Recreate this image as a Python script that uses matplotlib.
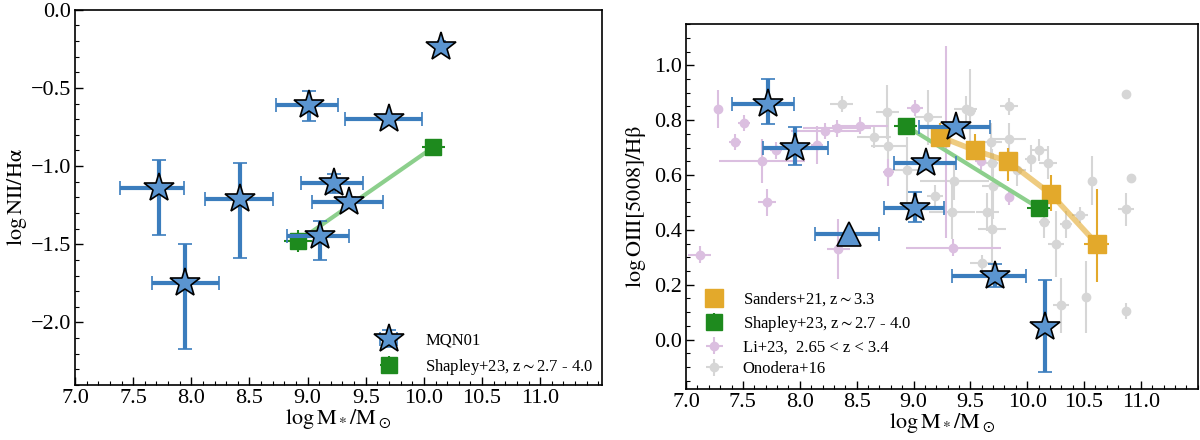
import numpy as np
import matplotlib
matplotlib.use('Agg')
import matplotlib.pyplot as plt
from matplotlib.ticker import MultipleLocator

plt.rcParams['font.family'] = ['Liberation Serif', 'DejaVu Serif']
plt.rcParams['mathtext.fontset'] = 'stix'

# MQN01, left panel (logM, log NII/Ha)
mqn_x_n2 = [7.72, 7.95, 8.42, 9.01, 9.70, 10.15, 9.23, 9.36, 9.11]
mqn_y_n2 = [-1.14, -1.75, -1.21, -0.61, -0.70, -0.24, -1.11, -1.23, -1.45]
mqn_xlo_n2 = [0.33, 0.29, 0.30, 0.28, 0.38, 0.03, 0.29, 0.32, 0.29]
mqn_xhi_n2 = [0.22, 0.29, 0.28, 0.25, 0.28, 0.03, 0.25, 0.29, 0.25]
mqn_ylo_n2 = [0.30, 0.42, 0.38, 0.10, 0.02, 0.01, 0.06, 0.03, 0.15]
mqn_yhi_n2 = [0.18, 0.25, 0.23, 0.09, 0.02, 0.03, 0.06, 0.03, 0.10]

# Shapley+23, left panel
shap_x_n2 = [8.92, 10.08]
shap_y_n2 = [-1.48, -0.88]
shap_xerr_n2 = [0.12, 0.10]
shap_yerr_n2 = [0.07, 0.02]

# MQN01, right panel (logM, log OIII/Hb)
mqn_x_o3 = [7.72, 7.96, 9.11, 9.01, 9.37, 9.72, 10.16]
mqn_y_o3 = [0.86, 0.70, 0.645, 0.48, 0.775, 0.233, 0.046]
mqn_xlo_o3 = [0.32, 0.28, 0.28, 0.27, 0.32, 0.38, 0.0]
mqn_xhi_o3 = [0.23, 0.29, 0.26, 0.26, 0.30, 0.27, 0.0]
mqn_ylo_o3 = [0.074, 0.064, 0.01, 0.05, 0.01, 0.04, 0.165]
mqn_yhi_o3 = [0.09, 0.076, 0.01, 0.057, 0.01, 0.043, 0.173]

# MQN01 lower limit (triangle)
tri_x, tri_y = [8.43], [0.385]
tri_xlo, tri_xhi = [0.30], [0.27]

# Sanders+21
sand_x = [9.23, 9.54, 9.83, 10.21, 10.61]
sand_y = [0.74, 0.69, 0.65, 0.53, 0.35]
sand_ylo = [0.03, 0.03, 0.07, 0.06, 0.14]
sand_yhi = [0.05, 0.06, 0.05, 0.07, 0.20]
sand_xerr = [0.0, 0.0, 0.0, 0.0, 0.11]

# Shapley+23, right panel
shap_x_o3 = [8.93, 10.10]
shap_y_o3 = [0.78, 0.48]
shap_xerr_o3 = [0.10, 0.10]
shap_yerr_o3 = [0.02, 0.02]

# Li+23
li_x = [7.12, 7.28, 7.43, 7.51, 7.67, 7.71, 7.79, 8.15, 8.22, 8.33, 8.53, 8.34,
        8.78, 9.01, 9.29, 9.35, 9.59, 9.84]
li_y = [0.31, 0.84, 0.72, 0.79, 0.65, 0.50, 0.69, 0.71, 0.76, 0.77, 0.78, 0.33,
        0.61, 0.845, 0.72, 0.335, 0.65, 0.52]
li_xerr = [0.10, 0.03, 0.05, 0.05, 0.38, 0.08, 0.05, 0.05, 0.30, 0.30, 0.25, 0.10,
           0.05, 0.07, 0.03, 0.42, 0.05, 0.03]
li_yerr = [0.03, 0.07, 0.03, 0.03, 0.08, 0.05, 0.03, 0.07, 0.03, 0.03, 0.03, 0.11,
           0.05, 0.03, 0.35, 0.03, 0.03, 0.03]

# Onodera+16
ono_x = [8.37, 8.65, 8.77, 8.78, 8.94, 9.13, 9.19, 9.36, 9.34, 9.46, 9.50, 9.68,
         9.69, 9.70, 9.65, 9.69, 9.60, 9.84, 9.84, 9.91, 10.03, 10.10, 10.18, 10.15,
         10.25, 10.34, 10.30, 10.46, 10.52, 10.57, 10.87, 10.91, 10.87, 10.87]
ono_y = [0.86, 0.74, 0.83, 0.705, 0.62, 0.81, 0.525, 0.58, 0.465, 0.84, 0.835, 0.72,
         0.645, 0.56, 0.465, 0.405, 0.28, 0.85, 0.73, 0.62, 0.66, 0.69, 0.645, 0.43,
         0.35, 0.42, 0.125, 0.455, 0.155, 0.58, 0.895, 0.59, 0.475, 0.105]
ono_xerr = [0.10, 0.15, 0.10, 0.15, 0.18, 0.12, 0.07, 0.30, 0.20, 0.10, 0.05, 0.10,
            0.05, 0.10, 0.10, 0.12, 0.10, 0.08, 0.15, 0.08, 0.05, 0.07, 0.08, 0.05,
            0.07, 0.05, 0.07, 0.07, 0.03, 0.03, 0.0, 0.0, 0.07, 0.02]
ono_yerr = [0.03, 0.04, 0.10, 0.12, 0.12, 0.10, 0.04, 0.07, 0.10, 0.05, 0.15, 0.07,
            0.05, 0.12, 0.07, 0.15, 0.03, 0.03, 0.06, 0.06, 0.05, 0.04, 0.06, 0.06,
            0.12, 0.05, 0.10, 0.03, 0.13, 0.09, 0.0, 0.0, 0.06, 0.03]

# colours
c_err = '#3b7dbd'
c_star = '#5b95d0'
c_green = '#1e8a1e'
c_lgreen = '#8ccf8c'
c_orange = '#e3a92b'
c_li = '#dbbfe0'
c_ono = '#d6d6d6'

fig = plt.figure(figsize=(12, 4.4), dpi=100)
ax1 = fig.add_axes([0.0625, 0.125, 0.439, 0.853])
ax2 = fig.add_axes([0.5717, 0.116, 0.4265, 0.829])

# ---- left panel ----
ax1.plot(shap_x_n2, shap_y_n2, color=c_lgreen, lw=3, zorder=2)
h_shap1 = ax1.errorbar(shap_x_n2, shap_y_n2, xerr=shap_xerr_n2, yerr=shap_yerr_n2,
                       fmt='s', color=c_green, ms=12, elinewidth=1.5, zorder=3,
                       label=r'Shapley+23, z$\sim$2.7 - 4.0')
h_mqn = ax1.errorbar(mqn_x_n2, mqn_y_n2, xerr=[mqn_xlo_n2, mqn_xhi_n2],
                     yerr=[mqn_ylo_n2, mqn_yhi_n2], fmt='*', ms=22, mfc=c_star,
                     mec='k', mew=1.2, ecolor=c_err, elinewidth=3, capsize=5,
                     capthick=1.5, zorder=4, label='MQN01')
ax1.legend(handles=[h_mqn, h_shap1], loc='lower right', frameon=False, fontsize=12,
           handletextpad=1.2, borderaxespad=0.1, bbox_to_anchor=(1.0, 0.0))
ax1.set_xlim(7.0, 11.53)
ax1.set_ylim(-2.4, 0.0)
ax1.set_xticks(np.arange(7.0, 11.01, 0.5))
ax1.set_yticks([0.0, -0.5, -1.0, -1.5, -2.0])
ax1.yaxis.set_minor_locator(MultipleLocator(0.1))
ax1.set_xlabel(r'$\log \mathrm{M_*/M_\odot}$', fontsize=16, labelpad=-1)
ax1.set_ylabel(r'$\log \mathrm{NII/H\alpha}$', fontsize=16, labelpad=1)

# ---- right panel ----
h_ono = ax2.errorbar(ono_x, ono_y, xerr=ono_xerr, yerr=ono_yerr, fmt='o', ms=6,
                     color=c_ono, elinewidth=1.5, zorder=1, label='Onodera+16')
h_li = ax2.errorbar(li_x, li_y, xerr=li_xerr, yerr=li_yerr, fmt='o', ms=6,
                    color=c_li, elinewidth=1.5, zorder=1,
                    label=r'Li+23,  2.65 < z < 3.4')
ax2.plot(sand_x, sand_y, color=c_orange, lw=4, alpha=0.6, zorder=2)
h_sand = ax2.errorbar(sand_x, sand_y, xerr=sand_xerr, yerr=[sand_ylo, sand_yhi],
                      fmt='s', ms=13, color=c_orange, elinewidth=1.5, zorder=3,
                      label=r'Sanders+21, z$\sim$3.3')
ax2.plot(shap_x_o3, shap_y_o3, color=c_lgreen, lw=3, zorder=2)
h_shap2 = ax2.errorbar(shap_x_o3, shap_y_o3, xerr=shap_xerr_o3, yerr=shap_yerr_o3,
                       fmt='s', ms=12, color=c_green, elinewidth=1.5, zorder=3,
                       label=r'Shapley+23, z$\sim$2.7 - 4.0')
ax2.errorbar(mqn_x_o3, mqn_y_o3, xerr=[mqn_xlo_o3, mqn_xhi_o3],
             yerr=[mqn_ylo_o3, mqn_yhi_o3], fmt='*', ms=22, mfc=c_star, mec='k',
             mew=1.2, ecolor=c_err, elinewidth=3, capsize=5, capthick=1.5, zorder=4)
ax2.errorbar(tri_x, tri_y, xerr=[tri_xlo, tri_xhi], fmt='^', ms=17, mfc=c_star,
             mec='k', mew=1.2, ecolor=c_err, elinewidth=3, capsize=5, capthick=1.5,
             zorder=4)
ax2.legend(handles=[h_sand, h_shap2, h_li, h_ono], loc='lower left', frameon=False,
           fontsize=12, handletextpad=0.7, labelspacing=0.35, borderaxespad=0.3,
           bbox_to_anchor=(0.0, 0.0))
ax2.set_xlim(7.0, 11.5)
ax2.set_ylim(-0.18, 1.15)
ax2.set_xticks(np.arange(7.0, 11.01, 0.5))
ax2.set_yticks([0.0, 0.2, 0.4, 0.6, 0.8, 1.0])
ax2.yaxis.set_minor_locator(MultipleLocator(0.05))
ax2.set_xlabel(r'$\log \mathrm{M_*/M_\odot}$', fontsize=16, labelpad=-1)
ax2.set_ylabel(r'$\log \mathrm{OIII[5008]/H\beta}$', fontsize=16, labelpad=4)

for ax in (ax1, ax2):
    ax.xaxis.set_minor_locator(MultipleLocator(0.1))
    ax.tick_params(which='both', direction='in', top=False, right=False,
                   labelsize=16, pad=3)
    ax.tick_params(which='major', length=6, width=1)
    ax.tick_params(which='minor', length=3, width=0.8)
    for s in ax.spines.values():
        s.set_linewidth(1.2)

fig.savefig('out.png', dpi=100)
